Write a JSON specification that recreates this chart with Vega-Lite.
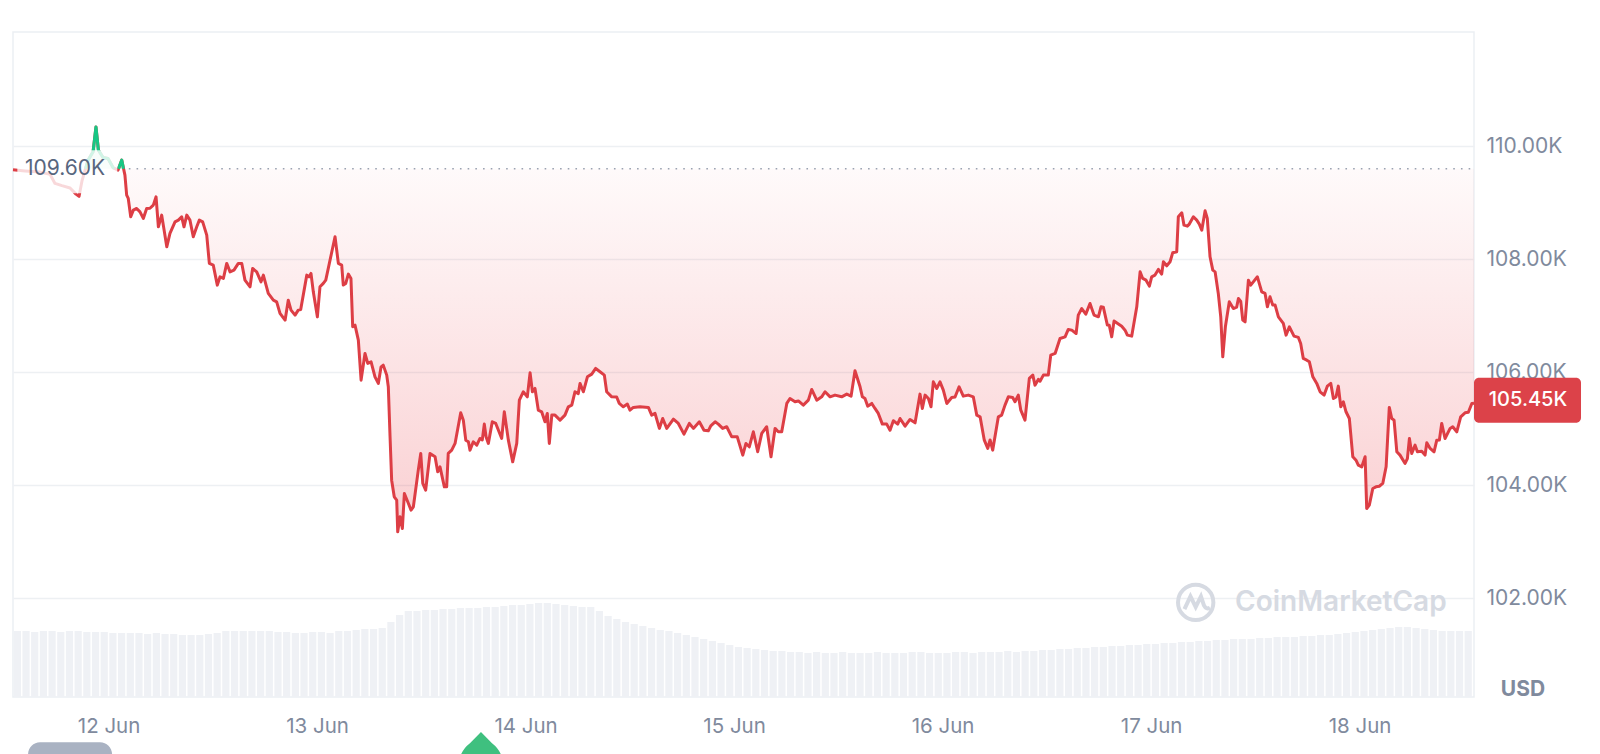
{
"$schema":"https://vega.github.io/schema/vega-lite/v6.json",
"width":1461,"height":665,
"autosize":{"type":"none"},
"padding":{"left":13,"top":32,"right":126,"bottom":57},
"background":"white",
"config":{"view":{"stroke":"#eceff3","strokeWidth":1.5},"font":"Inter"},
"datasets":{
"price":[
{"t":"2025-06-11T13:00Z","p":109580},{"t":"2025-06-11T14:23Z","p":109560},{"t":"2025-06-11T16:07Z","p":109540},{"t":"2025-06-11T17:16Z","p":109500},{"t":"2025-06-11T17:50Z","p":109340},{"t":"2025-06-11T18:38Z","p":109300},{"t":"2025-06-11T19:34Z","p":109260},{"t":"2025-06-11T20:15Z","p":109150},{"t":"2025-06-11T20:36Z","p":109110},{"t":"2025-06-11T20:56Z","p":109380},{"t":"2025-06-11T21:38Z","p":109750},{"t":"2025-06-11T22:13Z","p":109900},{"t":"2025-06-11T22:33Z","p":110340},{"t":"2025-06-11T22:50Z","p":109930},{"t":"2025-06-11T23:22Z","p":109800},{"t":"2025-06-11T23:56Z","p":109780},
{"t":"2025-06-12T00:31Z","p":109620},{"t":"2025-06-12T01:05Z","p":109575},{"t":"2025-06-12T01:31Z","p":109752},{"t":"2025-06-12T01:53Z","p":109487},{"t":"2025-06-12T02:05Z","p":109133},{"t":"2025-06-12T02:16Z","p":109074},{"t":"2025-06-12T02:33Z","p":108749},{"t":"2025-06-12T02:51Z","p":108867},{"t":"2025-06-12T03:14Z","p":108897},{"t":"2025-06-12T03:37Z","p":108837},{"t":"2025-06-12T04:00Z","p":108720},{"t":"2025-06-12T04:23Z","p":108897},{"t":"2025-06-12T04:46Z","p":108900},{"t":"2025-06-12T05:09Z","p":108956},{"t":"2025-06-12T05:28Z","p":109103},{"t":"2025-06-12T05:44Z","p":108572},{"t":"2025-06-12T06:07Z","p":108779},{"t":"2025-06-12T06:42Z","p":108218},{"t":"2025-06-12T07:04Z","p":108455},{"t":"2025-06-12T07:39Z","p":108660},{"t":"2025-06-12T08:02Z","p":108690},{"t":"2025-06-12T08:25Z","p":108749},{"t":"2025-06-12T08:41Z","p":108572},{"t":"2025-06-12T09:00Z","p":108779},{"t":"2025-06-12T09:22Z","p":108690},{"t":"2025-06-12T09:45Z","p":108395},{"t":"2025-06-12T10:09Z","p":108572},{"t":"2025-06-12T10:27Z","p":108690},{"t":"2025-06-12T10:50Z","p":108660},{"t":"2025-06-12T11:18Z","p":108425},{"t":"2025-06-12T11:36Z","p":107924},{"t":"2025-06-12T12:03Z","p":107894},{"t":"2025-06-12T12:31Z","p":107540},{"t":"2025-06-12T12:50Z","p":107687},{"t":"2025-06-12T13:13Z","p":107658},{"t":"2025-06-12T13:36Z","p":107924},{"t":"2025-06-12T13:59Z","p":107775},{"t":"2025-06-12T14:26Z","p":107805},{"t":"2025-06-12T14:56Z","p":107924},{"t":"2025-06-12T15:20Z","p":107924},{"t":"2025-06-12T15:42Z","p":107628},{"t":"2025-06-12T16:17Z","p":107510},{"t":"2025-06-12T16:35Z","p":107835},{"t":"2025-06-12T17:03Z","p":107775},{"t":"2025-06-12T17:33Z","p":107598},{"t":"2025-06-12T17:49Z","p":107717},{"t":"2025-06-12T18:23Z","p":107393},{"t":"2025-06-12T18:58Z","p":107274},{"t":"2025-06-12T19:21Z","p":107244},{"t":"2025-06-12T19:44Z","p":107039},{"t":"2025-06-12T20:19Z","p":106920},{"t":"2025-06-12T20:41Z","p":107274},{"t":"2025-06-12T21:00Z","p":107097},{"t":"2025-06-12T21:28Z","p":107009},{"t":"2025-06-12T21:50Z","p":107097},{"t":"2025-06-12T22:07Z","p":107109},{"t":"2025-06-12T22:49Z","p":107717},{"t":"2025-06-12T23:04Z","p":107687},{"t":"2025-06-12T23:18Z","p":107747},{"t":"2025-06-12T23:34Z","p":107421},
{"t":"2025-06-13T00:02Z","p":106978},{"t":"2025-06-13T00:20Z","p":107510},{"t":"2025-06-13T00:43Z","p":107570},{"t":"2025-06-13T01:00Z","p":107628},{"t":"2025-06-13T02:04Z","p":108395},{"t":"2025-06-13T02:27Z","p":107924},{"t":"2025-06-13T02:50Z","p":107894},{"t":"2025-06-13T03:01Z","p":107540},{"t":"2025-06-13T03:18Z","p":107570},{"t":"2025-06-13T03:36Z","p":107735},{"t":"2025-06-13T03:54Z","p":107658},{"t":"2025-06-13T04:06Z","p":106802},{"t":"2025-06-13T04:22Z","p":106832},{"t":"2025-06-13T04:45Z","p":106566},{"t":"2025-06-13T05:04Z","p":105858},{"t":"2025-06-13T05:31Z","p":106331},{"t":"2025-06-13T05:50Z","p":106154},{"t":"2025-06-13T06:13Z","p":106183},{"t":"2025-06-13T06:40Z","p":105917},{"t":"2025-06-13T07:03Z","p":105800},{"t":"2025-06-13T07:22Z","p":106094},{"t":"2025-06-13T07:37Z","p":106124},{"t":"2025-06-13T08:01Z","p":105947},{"t":"2025-06-13T08:12Z","p":105740},{"t":"2025-06-13T08:24Z","p":104855},{"t":"2025-06-13T08:35Z","p":104088},{"t":"2025-06-13T08:53Z","p":103793},{"t":"2025-06-13T09:10Z","p":103734},{"t":"2025-06-13T09:17Z","p":103173},{"t":"2025-06-13T09:33Z","p":103439},{"t":"2025-06-13T09:49Z","p":103234},{"t":"2025-06-13T10:03Z","p":103853},{"t":"2025-06-13T10:26Z","p":103705},{"t":"2025-06-13T10:49Z","p":103557},{"t":"2025-06-13T11:05Z","p":103616},{"t":"2025-06-13T11:39Z","p":104265},{"t":"2025-06-13T11:56Z","p":104561},{"t":"2025-06-13T12:10Z","p":104030},{"t":"2025-06-13T12:30Z","p":103911},{"t":"2025-06-13T13:00Z","p":104561},{"t":"2025-06-13T13:35Z","p":104502},{"t":"2025-06-13T13:53Z","p":104236},{"t":"2025-06-13T14:09Z","p":104324},{"t":"2025-06-13T14:39Z","p":103970},{"t":"2025-06-13T14:55Z","p":103970},{"t":"2025-06-13T15:06Z","p":104561},{"t":"2025-06-13T15:30Z","p":104619},{"t":"2025-06-13T15:53Z","p":104738},{"t":"2025-06-13T16:32Z","p":105280},{"t":"2025-06-13T16:50Z","p":105150},{"t":"2025-06-13T17:07Z","p":104796},{"t":"2025-06-13T17:25Z","p":104767},{"t":"2025-06-13T17:36Z","p":104619},{"t":"2025-06-13T17:59Z","p":104767},{"t":"2025-06-13T18:23Z","p":104708},{"t":"2025-06-13T18:45Z","p":104826},{"t":"2025-06-13T19:01Z","p":104800},{"t":"2025-06-13T19:15Z","p":105080},{"t":"2025-06-13T19:27Z","p":104855},{"t":"2025-06-13T19:43Z","p":104738},{"t":"2025-06-13T20:10Z","p":105121},{"t":"2025-06-13T20:34Z","p":105092},{"t":"2025-06-13T21:15Z","p":104826},{"t":"2025-06-13T21:33Z","p":105298},{"t":"2025-06-13T22:01Z","p":104796},{"t":"2025-06-13T22:31Z","p":104412},{"t":"2025-06-13T22:59Z","p":104738},{"t":"2025-06-13T23:17Z","p":105504},{"t":"2025-06-13T23:44Z","p":105652},
{"t":"2025-06-14T00:12Z","p":105563},{"t":"2025-06-14T00:31Z","p":105988},{"t":"2025-06-14T00:47Z","p":105652},{"t":"2025-06-14T01:05Z","p":105711},{"t":"2025-06-14T01:28Z","p":105327},{"t":"2025-06-14T01:51Z","p":105298},{"t":"2025-06-14T02:14Z","p":105121},{"t":"2025-06-14T02:30Z","p":105269},{"t":"2025-06-14T02:44Z","p":104738},{"t":"2025-06-14T03:01Z","p":105239},{"t":"2025-06-14T03:23Z","p":105239},{"t":"2025-06-14T03:58Z","p":105150},{"t":"2025-06-14T04:32Z","p":105239},{"t":"2025-06-14T04:55Z","p":105386},{"t":"2025-06-14T05:19Z","p":105416},{"t":"2025-06-14T05:41Z","p":105652},{"t":"2025-06-14T06:04Z","p":105620},{"t":"2025-06-14T06:16Z","p":105800},{"t":"2025-06-14T06:39Z","p":105652},{"t":"2025-06-14T07:07Z","p":105917},{"t":"2025-06-14T07:37Z","p":105965},{"t":"2025-06-14T08:04Z","p":106065},{"t":"2025-06-14T08:34Z","p":106006},{"t":"2025-06-14T09:04Z","p":105947},{"t":"2025-06-14T09:20Z","p":105652},{"t":"2025-06-14T09:55Z","p":105563},{"t":"2025-06-14T10:29Z","p":105560},{"t":"2025-06-14T10:47Z","p":105446},{"t":"2025-06-14T11:15Z","p":105386},{"t":"2025-06-14T11:43Z","p":105434},{"t":"2025-06-14T12:01Z","p":105327},{"t":"2025-06-14T12:24Z","p":105375},{"t":"2025-06-14T13:10Z","p":105386},{"t":"2025-06-14T14:08Z","p":105375},{"t":"2025-06-14T14:31Z","p":105239},{"t":"2025-06-14T14:54Z","p":105269},{"t":"2025-06-14T15:24Z","p":105004},{"t":"2025-06-14T15:47Z","p":105180},{"t":"2025-06-14T16:15Z","p":105004},{"t":"2025-06-14T17:01Z","p":105168},{"t":"2025-06-14T17:35Z","p":105092},{"t":"2025-06-14T18:14Z","p":104903},{"t":"2025-06-14T18:51Z","p":105092},{"t":"2025-06-14T19:19Z","p":105004},{"t":"2025-06-14T20:00Z","p":105121},{"t":"2025-06-14T20:32Z","p":104973},{"t":"2025-06-14T21:02Z","p":104961},{"t":"2025-06-14T21:19Z","p":105050},{"t":"2025-06-14T21:49Z","p":105121},{"t":"2025-06-14T22:11Z","p":105080},{"t":"2025-06-14T22:41Z","p":105004},{"t":"2025-06-14T23:09Z","p":105033},{"t":"2025-06-14T23:44Z","p":104855},
{"t":"2025-06-15T00:22Z","p":104855},{"t":"2025-06-15T01:00Z","p":104531},{"t":"2025-06-15T01:22Z","p":104738},{"t":"2025-06-15T01:45Z","p":104678},{"t":"2025-06-15T02:13Z","p":104944},{"t":"2025-06-15T02:43Z","p":104590},{"t":"2025-06-15T03:11Z","p":104915},{"t":"2025-06-15T03:45Z","p":105033},{"t":"2025-06-15T04:15Z","p":104502},{"t":"2025-06-15T04:43Z","p":105004},{"t":"2025-06-15T05:05Z","p":104944},{"t":"2025-06-15T05:29Z","p":104944},{"t":"2025-06-15T06:04Z","p":105446},{"t":"2025-06-15T06:26Z","p":105534},{"t":"2025-06-15T07:01Z","p":105475},{"t":"2025-06-15T07:24Z","p":105490},{"t":"2025-06-15T07:58Z","p":105416},{"t":"2025-06-15T08:33Z","p":105504},{"t":"2025-06-15T08:56Z","p":105694},{"t":"2025-06-15T09:31Z","p":105504},{"t":"2025-06-15T10:05Z","p":105563},{"t":"2025-06-15T10:28Z","p":105652},{"t":"2025-06-15T11:03Z","p":105563},{"t":"2025-06-15T11:37Z","p":105593},{"t":"2025-06-15T12:23Z","p":105563},{"t":"2025-06-15T12:58Z","p":105611},{"t":"2025-06-15T13:28Z","p":105575},{"t":"2025-06-15T13:55Z","p":106023},{"t":"2025-06-15T14:30Z","p":105740},{"t":"2025-06-15T14:46Z","p":105563},{"t":"2025-06-15T15:04Z","p":105534},{"t":"2025-06-15T15:23Z","p":105398},{"t":"2025-06-15T15:51Z","p":105446},{"t":"2025-06-15T16:13Z","p":105357},{"t":"2025-06-15T16:36Z","p":105269},{"t":"2025-06-15T17:04Z","p":105080},{"t":"2025-06-15T17:34Z","p":105080},{"t":"2025-06-15T17:57Z","p":104973},{"t":"2025-06-15T18:20Z","p":105139},{"t":"2025-06-15T18:50Z","p":105080},{"t":"2025-06-15T19:06Z","p":105180},{"t":"2025-06-15T19:41Z","p":105044},{"t":"2025-06-15T20:15Z","p":105162},{"t":"2025-06-15T20:50Z","p":105103},{"t":"2025-06-15T21:24Z","p":105611},{"t":"2025-06-15T21:40Z","p":105357},{"t":"2025-06-15T21:59Z","p":105593},{"t":"2025-06-15T22:22Z","p":105534},{"t":"2025-06-15T22:40Z","p":105386},{"t":"2025-06-15T22:56Z","p":105828},{"t":"2025-06-15T23:20Z","p":105711},{"t":"2025-06-15T23:42Z","p":105828},
{"t":"2025-06-16T00:05Z","p":105681},{"t":"2025-06-16T00:29Z","p":105446},{"t":"2025-06-16T01:03Z","p":105552},{"t":"2025-06-16T01:26Z","p":105560},{"t":"2025-06-16T01:54Z","p":105740},{"t":"2025-06-16T02:23Z","p":105575},{"t":"2025-06-16T02:58Z","p":105593},{"t":"2025-06-16T03:32Z","p":105563},{"t":"2025-06-16T03:56Z","p":105239},{"t":"2025-06-16T04:19Z","p":105209},{"t":"2025-06-16T04:48Z","p":104796},{"t":"2025-06-16T05:12Z","p":104650},{"t":"2025-06-16T05:28Z","p":104800},{"t":"2025-06-16T05:46Z","p":104619},{"t":"2025-06-16T06:25Z","p":105209},{"t":"2025-06-16T06:48Z","p":105240},{"t":"2025-06-16T07:11Z","p":105416},{"t":"2025-06-16T07:34Z","p":105563},{"t":"2025-06-16T08:04Z","p":105550},{"t":"2025-06-16T08:20Z","p":105475},{"t":"2025-06-16T08:43Z","p":105593},{"t":"2025-06-16T09:00Z","p":105327},{"t":"2025-06-16T09:29Z","p":105150},{"t":"2025-06-16T09:59Z","p":105889},{"t":"2025-06-16T10:23Z","p":105947},{"t":"2025-06-16T10:38Z","p":105770},{"t":"2025-06-16T11:01Z","p":105871},{"t":"2025-06-16T11:13Z","p":105840},{"t":"2025-06-16T11:36Z","p":105947},{"t":"2025-06-16T12:10Z","p":105950},{"t":"2025-06-16T12:27Z","p":106301},{"t":"2025-06-16T12:57Z","p":106331},{"t":"2025-06-16T13:31Z","p":106596},{"t":"2025-06-16T14:06Z","p":106625},{"t":"2025-06-16T14:28Z","p":106756},{"t":"2025-06-16T14:52Z","p":106743},{"t":"2025-06-16T15:22Z","p":106684},{"t":"2025-06-16T15:37Z","p":107009},{"t":"2025-06-16T16:01Z","p":107126},{"t":"2025-06-16T16:29Z","p":107026},{"t":"2025-06-16T16:58Z","p":107215},{"t":"2025-06-16T17:26Z","p":107009},{"t":"2025-06-16T17:56Z","p":106979},{"t":"2025-06-16T18:14Z","p":107156},{"t":"2025-06-16T18:30Z","p":107150},{"t":"2025-06-16T18:58Z","p":106832},{"t":"2025-06-16T19:11Z","p":106830},{"t":"2025-06-16T19:28Z","p":106625},{"t":"2025-06-16T19:44Z","p":106903},{"t":"2025-06-16T20:14Z","p":106850},{"t":"2025-06-16T20:37Z","p":106810},{"t":"2025-06-16T21:00Z","p":106743},{"t":"2025-06-16T21:16Z","p":106655},{"t":"2025-06-16T21:46Z","p":106637},{"t":"2025-06-16T22:21Z","p":107156},{"t":"2025-06-16T22:44Z","p":107775},{"t":"2025-06-16T23:02Z","p":107658},{"t":"2025-06-16T23:25Z","p":107628},{"t":"2025-06-16T23:48Z","p":107522},
{"t":"2025-06-17T00:04Z","p":107687},{"t":"2025-06-17T00:27Z","p":107717},{"t":"2025-06-17T00:50Z","p":107818},{"t":"2025-06-17T01:13Z","p":107735},{"t":"2025-06-17T01:25Z","p":107953},{"t":"2025-06-17T01:48Z","p":107882},{"t":"2025-06-17T02:11Z","p":107953},{"t":"2025-06-17T02:29Z","p":108112},{"t":"2025-06-17T02:57Z","p":108130},{"t":"2025-06-17T03:08Z","p":108749},{"t":"2025-06-17T03:32Z","p":108820},{"t":"2025-06-17T03:47Z","p":108602},{"t":"2025-06-17T04:10Z","p":108584},{"t":"2025-06-17T04:24Z","p":108620},{"t":"2025-06-17T04:52Z","p":108749},{"t":"2025-06-17T05:15Z","p":108690},{"t":"2025-06-17T05:33Z","p":108620},{"t":"2025-06-17T05:50Z","p":108513},{"t":"2025-06-17T06:13Z","p":108855},{"t":"2025-06-17T06:28Z","p":108720},{"t":"2025-06-17T06:47Z","p":108041},{"t":"2025-06-17T07:06Z","p":107805},{"t":"2025-06-17T07:22Z","p":107775},{"t":"2025-06-17T07:44Z","p":107393},{"t":"2025-06-17T08:01Z","p":106979},{"t":"2025-06-17T08:15Z","p":106271},{"t":"2025-06-17T08:33Z","p":106802},{"t":"2025-06-17T09:00Z","p":107244},{"t":"2025-06-17T09:28Z","p":107126},{"t":"2025-06-17T09:51Z","p":107150},{"t":"2025-06-17T10:03Z","p":107304},{"t":"2025-06-17T10:19Z","p":107250},{"t":"2025-06-17T10:33Z","p":106920},{"t":"2025-06-17T10:49Z","p":106890},{"t":"2025-06-17T11:12Z","p":107628},{"t":"2025-06-17T11:28Z","p":107540},{"t":"2025-06-17T11:46Z","p":107598},{"t":"2025-06-17T12:14Z","p":107687},{"t":"2025-06-17T12:44Z","p":107421},{"t":"2025-06-17T13:07Z","p":107393},{"t":"2025-06-17T13:23Z","p":107156},{"t":"2025-06-17T13:41Z","p":107333},{"t":"2025-06-17T14:00Z","p":107186},{"t":"2025-06-17T14:16Z","p":107190},{"t":"2025-06-17T14:39Z","p":106979},{"t":"2025-06-17T15:13Z","p":106862},{"t":"2025-06-17T15:32Z","p":106655},{"t":"2025-06-17T15:55Z","p":106802},{"t":"2025-06-17T16:27Z","p":106637},{"t":"2025-06-17T16:57Z","p":106614},{"t":"2025-06-17T17:13Z","p":106508},{"t":"2025-06-17T17:31Z","p":106243},{"t":"2025-06-17T17:55Z","p":106212},{"t":"2025-06-17T18:13Z","p":106183},{"t":"2025-06-17T18:37Z","p":105917},{"t":"2025-06-17T19:04Z","p":105800},{"t":"2025-06-17T19:27Z","p":105652},{"t":"2025-06-17T19:55Z","p":105593},{"t":"2025-06-17T20:17Z","p":105752},{"t":"2025-06-17T20:41Z","p":105800},{"t":"2025-06-17T20:59Z","p":105534},{"t":"2025-06-17T21:17Z","p":105560},{"t":"2025-06-17T21:33Z","p":105752},{"t":"2025-06-17T21:50Z","p":105386},{"t":"2025-06-17T22:08Z","p":105475},{"t":"2025-06-17T22:26Z","p":105298},{"t":"2025-06-17T22:49Z","p":105180},{"t":"2025-06-17T23:13Z","p":104502},{"t":"2025-06-17T23:35Z","p":104442},{"t":"2025-06-17T23:51Z","p":104354},
{"t":"2025-06-18T00:15Z","p":104324},{"t":"2025-06-18T00:38Z","p":104502},{"t":"2025-06-18T00:49Z","p":103586},{"t":"2025-06-18T01:07Z","p":103646},{"t":"2025-06-18T01:31Z","p":103941},{"t":"2025-06-18T01:53Z","p":103970},{"t":"2025-06-18T02:16Z","p":103980},{"t":"2025-06-18T02:40Z","p":104030},{"t":"2025-06-18T03:03Z","p":104324},{"t":"2025-06-18T03:25Z","p":105375},{"t":"2025-06-18T03:42Z","p":105180},{"t":"2025-06-18T03:58Z","p":105150},{"t":"2025-06-18T04:17Z","p":104590},{"t":"2025-06-18T04:39Z","p":104531},{"t":"2025-06-18T05:14Z","p":104384},{"t":"2025-06-18T05:30Z","p":104470},{"t":"2025-06-18T05:44Z","p":104826},{"t":"2025-06-18T06:00Z","p":104561},{"t":"2025-06-18T06:23Z","p":104708},{"t":"2025-06-18T06:39Z","p":104590},{"t":"2025-06-18T07:09Z","p":104600},{"t":"2025-06-18T07:32Z","p":104531},{"t":"2025-06-18T07:44Z","p":104749},{"t":"2025-06-18T08:07Z","p":104650},{"t":"2025-06-18T08:34Z","p":104590},{"t":"2025-06-18T08:53Z","p":104796},{"t":"2025-06-18T09:11Z","p":104800},{"t":"2025-06-18T09:27Z","p":105092},{"t":"2025-06-18T09:50Z","p":104826},{"t":"2025-06-18T10:25Z","p":105004},{"t":"2025-06-18T10:43Z","p":105033},{"t":"2025-06-18T11:11Z","p":104944},{"t":"2025-06-18T11:38Z","p":105209},{"t":"2025-06-18T12:08Z","p":105280},{"t":"2025-06-18T12:31Z","p":105290},{"t":"2025-06-18T12:55Z","p":105446},{"t":"2025-06-18T13:10Z","p":105450}
],
"green":[
{"t":"2025-06-11T21:21Z","p":109600,"seg":"a"},{"t":"2025-06-11T21:38Z","p":109750,"seg":"a"},{"t":"2025-06-11T22:13Z","p":109900,"seg":"a"},{"t":"2025-06-11T22:33Z","p":110340,"seg":"a"},{"t":"2025-06-11T22:50Z","p":109930,"seg":"a"},{"t":"2025-06-11T23:22Z","p":109800,"seg":"a"},{"t":"2025-06-11T23:56Z","p":109780,"seg":"a"},{"t":"2025-06-12T00:31Z","p":109620,"seg":"a"},{"t":"2025-06-12T00:40Z","p":109600,"seg":"a"},
{"t":"2025-06-12T01:08Z","p":109600,"seg":"b"},{"t":"2025-06-12T01:31Z","p":109752,"seg":"b"},{"t":"2025-06-12T01:43Z","p":109600,"seg":"b"}
],
"vol":[
{"t":"2025-06-11T13:30Z","v":1980},{"t":"2025-06-11T14:30Z","v":1980},{"t":"2025-06-11T15:30Z","v":1950},{"t":"2025-06-11T16:30Z","v":1980},{"t":"2025-06-11T17:30Z","v":1980},{"t":"2025-06-11T18:30Z","v":1950},{"t":"2025-06-11T19:30Z","v":1980},{"t":"2025-06-11T20:30Z","v":1980},{"t":"2025-06-11T21:30Z","v":1950},{"t":"2025-06-11T22:30Z","v":1950},{"t":"2025-06-11T23:30Z","v":1950},
{"t":"2025-06-12T00:30Z","v":1920},{"t":"2025-06-12T01:30Z","v":1920},{"t":"2025-06-12T02:30Z","v":1920},{"t":"2025-06-12T03:30Z","v":1920},{"t":"2025-06-12T04:30Z","v":1890},{"t":"2025-06-12T05:30Z","v":1920},{"t":"2025-06-12T06:30Z","v":1890},{"t":"2025-06-12T07:30Z","v":1890},{"t":"2025-06-12T08:30Z","v":1860},{"t":"2025-06-12T09:30Z","v":1860},{"t":"2025-06-12T10:30Z","v":1860},{"t":"2025-06-12T11:30Z","v":1890},{"t":"2025-06-12T12:30Z","v":1920},{"t":"2025-06-12T13:30Z","v":1980},{"t":"2025-06-12T14:30Z","v":1980},{"t":"2025-06-12T15:30Z","v":1980},{"t":"2025-06-12T16:30Z","v":1980},{"t":"2025-06-12T17:30Z","v":1980},{"t":"2025-06-12T18:30Z","v":1980},{"t":"2025-06-12T19:30Z","v":1950},{"t":"2025-06-12T20:30Z","v":1950},{"t":"2025-06-12T21:30Z","v":1920},{"t":"2025-06-12T22:30Z","v":1920},{"t":"2025-06-12T23:30Z","v":1950},
{"t":"2025-06-13T00:30Z","v":1950},{"t":"2025-06-13T01:30Z","v":1920},{"t":"2025-06-13T02:30Z","v":1980},{"t":"2025-06-13T03:30Z","v":1980},{"t":"2025-06-13T04:30Z","v":2010},{"t":"2025-06-13T05:30Z","v":2040},{"t":"2025-06-13T06:30Z","v":2040},{"t":"2025-06-13T07:30Z","v":2070},{"t":"2025-06-13T08:30Z","v":2250},{"t":"2025-06-13T09:30Z","v":2460},{"t":"2025-06-13T10:30Z","v":2580},{"t":"2025-06-13T11:30Z","v":2580},{"t":"2025-06-13T12:30Z","v":2610},{"t":"2025-06-13T13:30Z","v":2610},{"t":"2025-06-13T14:30Z","v":2640},{"t":"2025-06-13T15:30Z","v":2640},{"t":"2025-06-13T16:30Z","v":2670},{"t":"2025-06-13T17:30Z","v":2670},{"t":"2025-06-13T18:30Z","v":2670},{"t":"2025-06-13T19:30Z","v":2700},{"t":"2025-06-13T20:30Z","v":2700},{"t":"2025-06-13T21:30Z","v":2730},{"t":"2025-06-13T22:30Z","v":2760},{"t":"2025-06-13T23:30Z","v":2760},
{"t":"2025-06-14T00:30Z","v":2790},{"t":"2025-06-14T01:30Z","v":2820},{"t":"2025-06-14T02:30Z","v":2820},{"t":"2025-06-14T03:30Z","v":2790},{"t":"2025-06-14T04:30Z","v":2760},{"t":"2025-06-14T05:30Z","v":2730},{"t":"2025-06-14T06:30Z","v":2700},{"t":"2025-06-14T07:30Z","v":2700},{"t":"2025-06-14T08:30Z","v":2580},{"t":"2025-06-14T09:30Z","v":2430},{"t":"2025-06-14T10:30Z","v":2340},{"t":"2025-06-14T11:30Z","v":2250},{"t":"2025-06-14T12:30Z","v":2190},{"t":"2025-06-14T13:30Z","v":2130},{"t":"2025-06-14T14:30Z","v":2070},{"t":"2025-06-14T15:30Z","v":2010},{"t":"2025-06-14T16:30Z","v":1980},{"t":"2025-06-14T17:30Z","v":1920},{"t":"2025-06-14T18:30Z","v":1860},{"t":"2025-06-14T19:30Z","v":1800},{"t":"2025-06-14T20:30Z","v":1740},{"t":"2025-06-14T21:30Z","v":1680},{"t":"2025-06-14T22:30Z","v":1620},{"t":"2025-06-14T23:30Z","v":1560},
{"t":"2025-06-15T00:30Z","v":1500},{"t":"2025-06-15T01:30Z","v":1470},{"t":"2025-06-15T02:30Z","v":1440},{"t":"2025-06-15T03:30Z","v":1410},{"t":"2025-06-15T04:30Z","v":1380},{"t":"2025-06-15T05:30Z","v":1380},{"t":"2025-06-15T06:30Z","v":1350},{"t":"2025-06-15T07:30Z","v":1350},{"t":"2025-06-15T08:30Z","v":1320},{"t":"2025-06-15T09:30Z","v":1350},{"t":"2025-06-15T10:30Z","v":1320},{"t":"2025-06-15T11:30Z","v":1320},{"t":"2025-06-15T12:30Z","v":1350},{"t":"2025-06-15T13:30Z","v":1320},{"t":"2025-06-15T14:30Z","v":1320},{"t":"2025-06-15T15:30Z","v":1320},{"t":"2025-06-15T16:30Z","v":1350},{"t":"2025-06-15T17:30Z","v":1320},{"t":"2025-06-15T18:30Z","v":1320},{"t":"2025-06-15T19:30Z","v":1320},{"t":"2025-06-15T20:30Z","v":1350},{"t":"2025-06-15T21:30Z","v":1350},{"t":"2025-06-15T22:30Z","v":1320},{"t":"2025-06-15T23:30Z","v":1320},
{"t":"2025-06-16T00:30Z","v":1320},{"t":"2025-06-16T01:30Z","v":1350},{"t":"2025-06-16T02:30Z","v":1350},{"t":"2025-06-16T03:30Z","v":1320},{"t":"2025-06-16T04:30Z","v":1350},{"t":"2025-06-16T05:30Z","v":1350},{"t":"2025-06-16T06:30Z","v":1350},{"t":"2025-06-16T07:30Z","v":1380},{"t":"2025-06-16T08:30Z","v":1350},{"t":"2025-06-16T09:30Z","v":1380},{"t":"2025-06-16T10:30Z","v":1380},{"t":"2025-06-16T11:30Z","v":1410},{"t":"2025-06-16T12:30Z","v":1410},{"t":"2025-06-16T13:30Z","v":1440},{"t":"2025-06-16T14:30Z","v":1440},{"t":"2025-06-16T15:30Z","v":1470},{"t":"2025-06-16T16:30Z","v":1470},{"t":"2025-06-16T17:30Z","v":1500},{"t":"2025-06-16T18:30Z","v":1500},{"t":"2025-06-16T19:30Z","v":1530},{"t":"2025-06-16T20:30Z","v":1530},{"t":"2025-06-16T21:30Z","v":1560},{"t":"2025-06-16T22:30Z","v":1560},{"t":"2025-06-16T23:30Z","v":1590},
{"t":"2025-06-17T00:30Z","v":1590},{"t":"2025-06-17T01:30Z","v":1620},{"t":"2025-06-17T02:30Z","v":1620},{"t":"2025-06-17T03:30Z","v":1650},{"t":"2025-06-17T04:30Z","v":1650},{"t":"2025-06-17T05:30Z","v":1680},{"t":"2025-06-17T06:30Z","v":1680},{"t":"2025-06-17T07:30Z","v":1710},{"t":"2025-06-17T08:30Z","v":1710},{"t":"2025-06-17T09:30Z","v":1740},{"t":"2025-06-17T10:30Z","v":1740},{"t":"2025-06-17T11:30Z","v":1740},{"t":"2025-06-17T12:30Z","v":1770},{"t":"2025-06-17T13:30Z","v":1770},{"t":"2025-06-17T14:30Z","v":1800},{"t":"2025-06-17T15:30Z","v":1800},{"t":"2025-06-17T16:30Z","v":1800},{"t":"2025-06-17T17:30Z","v":1830},{"t":"2025-06-17T18:30Z","v":1830},{"t":"2025-06-17T19:30Z","v":1860},{"t":"2025-06-17T20:30Z","v":1860},{"t":"2025-06-17T21:30Z","v":1890},{"t":"2025-06-17T22:30Z","v":1920},{"t":"2025-06-17T23:30Z","v":1950},
{"t":"2025-06-18T00:30Z","v":1980},{"t":"2025-06-18T01:30Z","v":2010},{"t":"2025-06-18T02:30Z","v":2040},{"t":"2025-06-18T03:30Z","v":2070},{"t":"2025-06-18T04:30Z","v":2100},{"t":"2025-06-18T05:30Z","v":2100},{"t":"2025-06-18T06:30Z","v":2070},{"t":"2025-06-18T07:30Z","v":2040},{"t":"2025-06-18T08:30Z","v":2010},{"t":"2025-06-18T09:30Z","v":1980},{"t":"2025-06-18T10:30Z","v":1980},{"t":"2025-06-18T11:30Z","v":1980},{"t":"2025-06-18T12:30Z","v":1980}
]
},
"resolve":{"scale":{"y":"independent"}},
"layer":[
{"data":{"name":"vol"},
 "mark":{"type":"bar","color":"#eff1f5","size":7.2},
 "encoding":{
  "x":{"field":"t","type":"temporal","scale":{"type":"utc","padding":0,"domain":[{"year":2025,"month":6,"date":11,"hours":13,"utc":true},{"year":2025,"month":6,"date":18,"hours":13,"minutes":10,"utc":true}]},
   "axis":{"values":[{"year":2025,"month":6,"date":12,"utc":true},{"year":2025,"month":6,"date":13,"utc":true},{"year":2025,"month":6,"date":14,"utc":true},{"year":2025,"month":6,"date":15,"utc":true},{"year":2025,"month":6,"date":16,"utc":true},{"year":2025,"month":6,"date":17,"utc":true},{"year":2025,"month":6,"date":18,"utc":true}],
    "format":"%-d %b","grid":false,"domain":false,"ticks":false,"labelPadding":19,"labelFontSize":20.5,"labelColor":"#808a9d","labelFont":"Inter","title":null}},
  "y":{"field":"v","type":"quantitative","scale":{"domain":[0,19950]},"axis":null}
 }},
{"layer":[
 {"data":{"name":"price"},
  "mark":{"type":"area","fill":{"gradient":"linear","x1":0,"y1":0,"x2":0,"y2":1,"stops":[{"offset":0,"color":"rgba(234,57,67,0)"},{"offset":1,"color":"rgba(234,57,67,0.24)"}]}},
  "encoding":{
   "x":{"field":"t","type":"temporal"},
   "y":{"field":"p","type":"quantitative","scale":{"domain":[100250,112020],"nice":false,"zero":false},
    "axis":{"orient":"right","values":[102000,104000,106000,108000,110000],"labelExpr":"format(datum.value/1000, '.2f') + 'K'","grid":true,"gridColor":"#edf0f3","gridWidth":1.5,"domain":false,"ticks":false,"labelPadding":12,"labelFontSize":21,"labelColor":"#808a9d","labelFont":"Inter","title":null,"labelAlign":"left","labelBaseline":"middle"}},
   "y2":{"datum":109600}
  }},
 {"data":{"values":[{}]},
  "mark":{"type":"rule","color":"#9aa2b1","strokeWidth":1.6,"strokeDash":[1.6,6.1]},
  "encoding":{
   "x":{"datum":{"year":2025,"month":6,"date":12,"hours":2,"minutes":20,"utc":true},"type":"temporal"},
   "x2":{"datum":{"year":2025,"month":6,"date":18,"hours":13,"minutes":10,"utc":true}},
   "y":{"datum":109600,"type":"quantitative"}
  }},
 {"data":{"name":"price"},
  "mark":{"type":"line","color":"#dd3e45","strokeWidth":3,"strokeJoin":"round"},
  "encoding":{
   "x":{"field":"t","type":"temporal"},
   "y":{"field":"p","type":"quantitative"}
  }},
 {"data":{"name":"green"},
  "mark":{"type":"area","color":"#16c784","opacity":0.15},
  "encoding":{
   "x":{"field":"t","type":"temporal"},
   "y":{"field":"p","type":"quantitative"},
   "y2":{"datum":109600},
   "detail":{"field":"seg"}
  }},
 {"data":{"name":"green"},
  "mark":{"type":"line","color":"#16c784","strokeWidth":3,"strokeJoin":"round"},
  "encoding":{
   "x":{"field":"t","type":"temporal"},
   "y":{"field":"p","type":"quantitative"},
   "detail":{"field":"seg"}
  }},
 {"data":{"values":[{}]},
  "mark":{"type":"rect","color":"white","opacity":0.8},
  "encoding":{
   "x":{"datum":{"year":2025,"month":6,"date":11,"hours":13,"minutes":30,"utc":true},"type":"temporal"},
   "x2":{"datum":{"year":2025,"month":6,"date":12,"hours":1,"minutes":0,"utc":true}},
   "y":{"datum":109929,"type":"quantitative"},
   "y2":{"datum":109168}
  }},
 {"data":{"values":[{"label":"109.60K"}]},
  "mark":{"type":"text","align":"left","baseline":"middle","dx":12,"fontSize":21,"color":"#58667e","font":"Inter"},
  "encoding":{
   "x":{"datum":{"year":2025,"month":6,"date":11,"hours":13,"utc":true},"type":"temporal"},
   "y":{"datum":109600,"type":"quantitative"},
   "text":{"field":"label"}
  }},
 {"data":{"values":[{}]},
  "mark":{"type":"rect","color":"#dc4249","cornerRadius":5},
  "encoding":{
   "x":{"datum":{"year":2025,"month":6,"date":18,"hours":13,"minutes":10,"utc":true},"type":"temporal"},
   "x2":{"datum":{"year":2025,"month":6,"date":19,"hours":1,"minutes":29,"utc":true}},
   "y":{"datum":105900,"type":"quantitative"},
   "y2":{"datum":105105}
  }},
 {"data":{"values":[{"label":"105.45K"}]},
  "mark":{"type":"text","align":"center","baseline":"middle","dx":54,"fontSize":20,"fontWeight":500,"color":"white","font":"Inter"},
  "encoding":{
   "x":{"datum":{"year":2025,"month":6,"date":18,"hours":13,"minutes":10,"utc":true},"type":"temporal"},
   "y":{"datum":105500,"type":"quantitative"},
   "text":{"field":"label"}
  }},
 {"data":{"values":[{"label":"USD"}]},
  "mark":{"type":"text","align":"center","baseline":"middle","dx":49,"fontSize":21,"fontWeight":"bold","color":"#808a9d","font":"Inter"},
  "encoding":{
   "x":{"datum":{"year":2025,"month":6,"date":18,"hours":13,"minutes":10,"utc":true},"type":"temporal"},
   "y":{"datum":100372,"type":"quantitative"},
   "text":{"field":"label"}
  }},
 {"data":{"values":[{"label":"CoinMarketCap"}]},
  "mark":{"type":"text","align":"left","baseline":"middle","fontSize":28,"fontWeight":600,"color":"#d6dae2","font":"Inter"},
  "encoding":{
   "x":{"datum":{"year":2025,"month":6,"date":17,"hours":9,"minutes":40,"utc":true},"type":"temporal"},
   "y":{"datum":101912,"type":"quantitative"},
   "text":{"field":"label"}
  }},
 {"data":{"values":[{}]},
  "mark":{"type":"point","shape":"circle","filled":false,"size":1250,"stroke":"#d6dae2","strokeWidth":4,"opacity":1},
  "encoding":{
   "x":{"datum":{"year":2025,"month":6,"date":17,"hours":5,"minutes":8,"utc":true},"type":"temporal"},
   "y":{"datum":101924,"type":"quantitative"}
  }},
 {"data":{"values":[{}]},
  "mark":{"type":"point","shape":"M-0.75,0.45 L-0.35,-0.4 L0,0.3 L0.35,-0.4 L0.55,0.2 Q0.7,0.5 0.95,0.35","filled":false,"size":900,"stroke":"#d6dae2","strokeWidth":4,"opacity":1},
  "encoding":{
   "x":{"datum":{"year":2025,"month":6,"date":17,"hours":5,"minutes":8,"utc":true},"type":"temporal"},
   "y":{"datum":101924,"type":"quantitative"}
  }},
 {"data":{"values":[{}]},
  "mark":{"type":"rect","color":"#a9b2c2","cornerRadius":12},
  "encoding":{
   "x":{"datum":{"year":2025,"month":6,"date":11,"hours":14,"minutes":44,"utc":true},"type":"temporal"},
   "x2":{"datum":{"year":2025,"month":6,"date":12,"hours":0,"minutes":24,"utc":true}},
   "y":{"datum":99451,"type":"quantitative"},
   "y2":{"datum":98900}
  }},
 {"data":{"values":[{}]},
  "mark":{"type":"point","shape":"M0,-1 L0.45,-0.55 Q0.9,-0.2 0.9,0.3 L0.9,1 L-0.9,1 L-0.9,0.3 Q-0.9,-0.2 -0.45,-0.55 Z","filled":true,"size":2304,"color":"#3fc07f","opacity":1},
  "encoding":{
   "x":{"datum":{"year":2025,"month":6,"date":13,"hours":18,"minutes":52,"utc":true},"type":"temporal"},
   "y":{"datum":99204,"type":"quantitative"}
  }}
]}
]
}
